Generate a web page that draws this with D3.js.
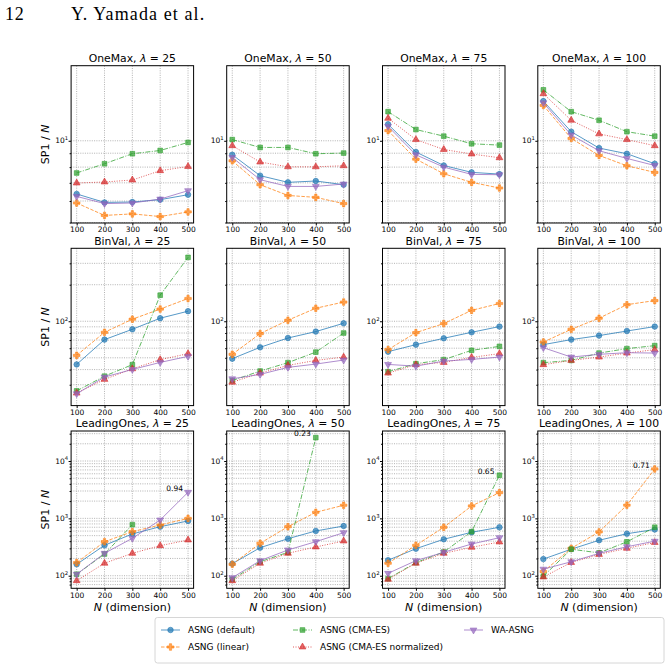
<!DOCTYPE html>
<html>
<head>
<meta charset="utf-8">
<script src="https://cdn.jsdelivr.net/npm/d3@7"></script>
<style>
  body { margin: 0; background: #fff; }
  svg { display: block; }
  text { font-family: "DejaVu Sans", sans-serif; fill: #000; }
</style>
</head>
<body>
<div id="chart"></div>
<script>
const dims = [100, 200, 300, 400, 500]
const lambdas = [25, 50, 75, 100]
const problems = ["OneMax", "BinVal", "LeadingOnes"]
const methods = ["ASNG (default)", "ASNG (linear)", "ASNG (CMA-ES)", "ASNG (CMA-ES normalized)", "WA-ASNG"]

// one inner array per lambda (25, 50, 75, 100), values at N = 100..500
const oneMaxDefault = [[6.37, 5.93, 5.95, 6.07, 6.33], [8.88, 7.44, 7.03, 7.11, 6.89], [11.5, 9.09, 8.11, 7.65, 7.54], [14.0, 10.8, 9.40, 8.96, 8.23]]
const oneMaxLinear = [[5.90, 5.31, 5.38, 5.26, 5.47], [8.44, 6.89, 6.29, 6.19, 5.87], [10.9, 8.56, 7.56, 7.03, 6.70], [13.5, 10.2, 8.83, 8.09, 7.65]]
const oneMaxCma = [[7.61, 8.23, 8.96, 9.21, 9.86], [10.1, 9.45, 9.45, 8.96, 9.01], [12.8, 11.0, 10.4, 9.75, 9.64], [15.4, 12.8, 11.9, 10.8, 10.4]]
const oneMaxCmaNorm = [[6.99, 7.05, 7.17, 7.76, 8.04], [9.59, 8.35, 8.02, 8.02, 8.09], [12.1, 10.1, 9.29, 8.94, 8.66], [14.9, 11.9, 10.6, 10.1, 9.59]]
const oneMaxWa = [[6.24, 5.87, 5.90, 6.10, 6.55], [8.68, 7.19, 6.79, 6.79, 6.93], [11.3, 8.88, 8.00, 7.52, 7.50], [13.8, 10.5, 9.19, 8.61, 8.11]]

const binValDefault = [[44.1, 70.6, 85.9, 106, 121], [49.2, 61.0, 72.8, 82.2, 96.3], [56.2, 64.2, 72.4, 81.1, 90.4], [64.2, 70.6, 76.2, 83.1, 90.4]]
const binValLinear = [[52.4, 81.1, 104, 126, 154], [53.4, 79.1, 102, 128, 144], [58.4, 80.6, 95.7, 123, 140], [67.4, 85.9, 106, 137, 148]]
const binValCma = [[26.7, 35.3, 43.9, 164, 336], [32.5, 38.9, 45.6, 55.7, 80.0], [38.4, 44.7, 48.3, 57.6, 62.1], [45.6, 47.6, 54.7, 59.5, 63.0]]
const binValCmaNorm = [[25.6, 33.2, 40.6, 48.3, 54.1], [31.5, 37.4, 43.3, 47.6, 50.7], [37.4, 43.9, 45.8, 50.4, 54.1], [43.9, 47.6, 50.7, 54.7, 58.4]]
const binValWa = [[25.3, 34.7, 40.1, 45.8, 51.4], [33.6, 36.5, 41.7, 44.4, 47.9], [44.1, 42.7, 47.0, 48.5, 50.7], [60.6, 50.7, 53.4, 55.1, 54.7]]

const leadingOnesDefault = [[158, 339, 535, 716, 901], [162, 308, 442, 603, 736], [186, 296, 432, 572, 699], [195, 290, 415, 540, 640]]
const leadingOnesLinear = [[169, 392, 586, 767, 1000], [158, 367, 716, 1277, 1693], [165, 339, 699, 1646, 2810], [118, 300, 580, 1700, 7280]]
const leadingOnesCma = [[106, 239, 776, null, null], [86.5, 175, 256, 25600, null], [88.7, 169, 259, 586, 5650], [98, 290, 250, 390, 700]]
const leadingOnesCmaNorm = [[81.8, 165, 246, 334, 420], [81.8, 165, 246, 317, 403], [86.5, 165, 246, 313, 387], [95, 170, 235, 300, 380]]
const leadingOnesWa = [[106, 246, 449, 937, 2850], [92.3, 183, 281, 392, 563], [110, 183, 256, 357, 460], [130, 175, 245, 320, 400]]

// success rates written next to the last point of some curves
const notes = [
  { row: 2, col: 0, method: 4, dim: 500, label: "0.94" },
  { row: 2, col: 1, method: 2, dim: 400, label: "0.23" },
  { row: 2, col: 2, method: 2, dim: 500, label: "0.65" },
  { row: 2, col: 3, method: 1, dim: 500, label: "0.71" }
]

const table = [
  [oneMaxDefault, oneMaxLinear, oneMaxCma, oneMaxCmaNorm, oneMaxWa],
  [binValDefault, binValLinear, binValCma, binValCmaNorm, binValWa],
  [leadingOnesDefault, leadingOnesLinear, leadingOnesCma, leadingOnesCmaNorm, leadingOnesWa]
]

const yDomains = [[4.98, 18.9], [20.2, 399], [60.3, 33400]]
const yMajors = [[10], [100], [100, 1000, 10000]]

const styles = [
  { color: "#1f77b4", dash: null, symbol: d3.symbolCircle, size: 24, rot: 0 },
  { color: "#ff7f0e", dash: "3.5,1.5", symbol: d3.symbolCross, size: 24, rot: 0 },
  { color: "#2ca02c", dash: "5,1.5,1,1.5", symbol: d3.symbolSquare, size: 22, rot: 0 },
  { color: "#d62728", dash: "1,1.5", symbol: d3.symbolTriangle, size: 20, rot: 0 },
  { color: "#9467bd", dash: null, symbol: d3.symbolTriangle, size: 20, rot: 180 }
]

const width = 668, height = 664
const colLeft = [71.1, 226.7, 382.5, 537.8]
const rowTop = [65.7, 248.3, 431]
const axW = 122.5, axH = 157.3

const svg = d3.select("#chart").append("svg")
  .attr("width", width)
  .attr("height", height)

// page header
svg.append("text").attr("x", 5).attr("y", 20)
  .style("font-family", "'Liberation Serif', serif").style("font-size", "18px")
  .style("letter-spacing", "0.8px")
  .text("12")
svg.append("text").attr("x", 71).attr("y", 20)
  .style("font-family", "'Liberation Serif', serif").style("font-size", "18px")
  .style("letter-spacing", "1.1px")
  .text("Y. Yamada et al.")

function supLabel(sel, v) {
  const exp = Math.round(Math.log10(v))
  sel.append("tspan").text("10")
  sel.append("tspan").attr("dy", -3.3).style("font-size", "5.3px").text(exp)
}

function drawMarker(g, st, cx, cy) {
  g.append("path")
    .attr("d", d3.symbol().type(st.symbol).size(st.size)())
    .attr("transform", "translate(" + cx + "," + cy + ") rotate(" + st.rot + ")")
    .attr("fill", st.color)
    .attr("fill-opacity", 0.7)
    .attr("stroke", st.color)
    .attr("stroke-opacity", 0.7)
    .attr("stroke-width", 0.8)
}

problems.forEach((prob, r) => {
  lambdas.forEach((lam, c) => {
    const left = colLeft[c], top = rowTop[r]
    const g = svg.append("g")

    const x = d3.scaleLinear().domain([80, 520]).range([left, left + axW])
    const y = d3.scaleLog().domain(yDomains[r]).range([top + axH, top])

    // minor / major log values inside the domain
    const [lo, hi] = yDomains[r]
    const gridVals = []
    for (let e = Math.floor(Math.log10(lo)); e <= Math.ceil(Math.log10(hi)); e++) {
      for (let k = 1; k <= 9; k++) {
        const v = k * Math.pow(10, e)
        if (v >= lo && v <= hi) gridVals.push(v)
      }
    }
    const minors = gridVals.filter(v => !yMajors[r].includes(v))

    // GRID
    g.selectAll(".hg").data(gridVals).enter().append("line")
      .attr("x1", left).attr("x2", left + axW)
      .attr("y1", d => y(d)).attr("y2", d => y(d))
      .attr("stroke", "#a0a0a0").attr("stroke-width", 0.8)
      .attr("stroke-dasharray", "1,1.3")
    g.selectAll(".vg").data(dims).enter().append("line")
      .attr("x1", d => x(d)).attr("x2", d => x(d))
      .attr("y1", top).attr("y2", top + axH)
      .attr("stroke", "#a0a0a0").attr("stroke-width", 0.8)
      .attr("stroke-dasharray", "1,1.3")

    // AXES
    const xa = g.append("g")
      .attr("transform", "translate(0," + (top + axH) + ")")
      .call(d3.axisBottom(x).tickValues(dims).tickSize(2.5).tickPadding(1.5))
    xa.select(".domain").remove()
    xa.selectAll("text").style("font-size", "7.5px").style("font-family", "DejaVu Sans")

    const ya = g.append("g")
      .attr("transform", "translate(" + left + ",0)")
      .call(d3.axisLeft(y).tickValues(yMajors[r]).tickSize(2.5).tickFormat(""))
    ya.select(".domain").remove()
    const ym = g.append("g")
      .attr("transform", "translate(" + left + ",0)")
      .call(d3.axisLeft(y).tickValues(minors).tickSize(1.5).tickFormat(""))
    ym.select(".domain").remove()

    yMajors[r].forEach(v => {
      const t = g.append("text")
        .attr("x", left - 3)
        .attr("y", y(v) + 2.7)
        .attr("text-anchor", "end")
        .style("font-size", "7.5px")
      supLabel(t, v)
    })

    // SERIES
    methods.forEach((m, mi) => {
      const st = styles[mi]
      const pts = dims.map((d, i) => ({ d: d, v: table[r][mi][c][i] })).filter(p => p.v != null)
      const line = d3.line().x(p => x(p.d)).y(p => y(p.v))
      g.append("path")
        .datum(pts)
        .attr("d", line)
        .attr("fill", "none")
        .attr("stroke", st.color)
        .attr("stroke-opacity", 0.75)
        .attr("stroke-width", 1)
        .attr("stroke-dasharray", st.dash)
      pts.forEach(p => drawMarker(g, st, x(p.d), y(p.v)))
    })

    notes.filter(n => n.row === r && n.col === c).forEach(n => {
      const v = table[r][n.method][c][dims.indexOf(n.dim)]
      g.append("text")
        .attr("x", x(n.dim) - 5)
        .attr("y", y(v) - 1.3)
        .attr("text-anchor", "end")
        .style("font-size", "7.5px")
        .text(n.label)
    })

    // FRAME
    g.append("rect")
      .attr("x", left).attr("y", top)
      .attr("width", axW).attr("height", axH)
      .attr("fill", "none").attr("stroke", "#000").attr("stroke-width", 1)

    // TITLE
    const title = g.append("text")
      .attr("x", left + axW / 2)
      .attr("y", top - 3.6)
      .attr("text-anchor", "middle")
      .style("font-size", "10.8px")
    title.append("tspan").text(prob + ", ")
    title.append("tspan").style("font-style", "italic").text("λ")
    title.append("tspan").text(" = " + lam)

    // LABELS
    if (c === 0) {
      const yl = g.append("text")
        .attr("transform", "translate(" + 49 + "," + (top + axH / 2) + ") rotate(-90)")
        .attr("text-anchor", "middle")
        .style("font-size", "11px")
      yl.append("tspan").text("SP1 / ")
      yl.append("tspan").style("font-style", "italic").text("N")
    }
    if (r === 2) {
      const xl = g.append("text")
        .attr("x", left + axW / 2)
        .attr("y", top + axH + 22.5)
        .attr("text-anchor", "middle")
        .style("font-size", "11px")
      xl.append("tspan").style("font-style", "italic").text("N")
      xl.append("tspan").text(" (dimension)")
    }
  })
})

// LEGEND
const lg = svg.append("g")
lg.append("rect")
  .attr("x", 155).attr("y", 617.5)
  .attr("width", 509).attr("height", 45.5)
  .attr("rx", 2.5)
  .attr("fill", "#fff").attr("fill-opacity", 0.8)
  .attr("stroke", "#cccccc").attr("stroke-width", 0.8)

const legendCols = [161, 293, 464]
methods.forEach((m, mi) => {
  const st = styles[mi]
  const lx = legendCols[Math.floor(mi / 2)]
  const ly = 630 + (mi % 2) * 17
  lg.append("line")
    .attr("x1", lx).attr("x2", lx + 19)
    .attr("y1", ly).attr("y2", ly)
    .attr("stroke", st.color).attr("stroke-opacity", 0.75)
    .attr("stroke-width", 1)
    .attr("stroke-dasharray", st.dash)
  drawMarker(lg, st, lx + 9.5, ly)
  lg.append("text")
    .attr("x", lx + 27)
    .attr("y", ly + 3.2)
    .style("font-size", "9px")
    .text(m)
})
</script>
</body>
</html>
